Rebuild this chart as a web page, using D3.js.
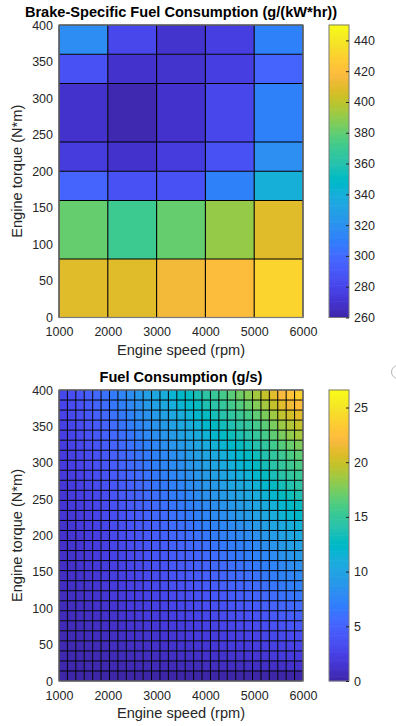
<!DOCTYPE html>
<html><head><meta charset="utf-8">
<script src="https://cdn.jsdelivr.net/npm/d3@7"></script>
<style>
body{margin:0;background:#fff;}
svg{display:block;font-family:"Liberation Sans",Arial,Helvetica,sans-serif;}
</style>
</head><body>
<svg id="c" width="396" height="726"></svg>
<script>
// ---------------- DATA ----------------
const speedTicks = [1000, 2000, 3000, 4000, 5000, 6000];
const torqueTicks = [0, 50, 100, 150, 200, 250, 300, 350, 400];

// Brake-specific fuel consumption (pcolor cells, rows bottom -> top)
const bsfcSpeedEdges = [1000, 2000, 3000, 4000, 5000, 6000];
const bsfcTorqueEdges = [0, 80, 160, 200, 240, 320, 360, 400];
const bsfcValues = [
  [409, 409, 415, 419, 431],
  [381, 371, 381, 391, 409],
  [296, 287, 287, 311, 340],
  [275, 269, 275, 287, 319],
  [269, 262, 269, 281, 311],
  [287, 269, 270, 276, 296],
  [318, 281, 270, 276, 311]
];
const bsfcLimits = [260, 450];
const bsfcColorTicks = [260, 280, 300, 320, 340, 360, 380, 400, 420, 440];

// Fuel consumption (g/s), 29 x 29 cells, rows bottom -> top
const fuelSpeedEdges = [1000, 1172.4, 1344.8, 1517.2, 1689.7, 1862.1, 2034.5, 2206.9, 2379.3, 2551.7,
  2724.1, 2896.6, 3069.0, 3241.4, 3413.8, 3586.2, 3758.6, 3931.0, 4103.4, 4275.9, 4448.3, 4620.7,
  4793.1, 4965.5, 5137.9, 5310.3, 5482.8, 5655.2, 5827.6, 6000];
const fuelTorqueEdges = [0, 13.8, 27.6, 41.4, 55.2, 69.0, 82.8, 96.6, 110.3, 124.1, 137.9, 151.7,
  165.5, 179.3, 193.1, 206.9, 220.7, 234.5, 248.3, 262.1, 275.9, 289.7, 303.4, 317.2, 331.0, 344.8,
  358.6, 372.4, 386.2, 400];
const fuelValues = [
  [0,0,0,0,0,0,0,0,0,0,0,0,0,0,0,0,0,0,0,0,0,0,0,0,0,0,0,0,0],
  [0.2,0.2,0.2,0.3,0.3,0.3,0.4,0.4,0.5,0.5,0.5,0.6,0.6,0.6,0.7,0.7,0.7,0.8,0.8,0.9,0.9,0.9,1.0,1.0,1.1,1.1,1.2,1.3,1.3],
  [0.3,0.3,0.4,0.4,0.5,0.5,0.6,0.7,0.7,0.8,0.9,0.9,1.0,1.0,1.1,1.1,1.2,1.3,1.3,1.4,1.5,1.5,1.6,1.7,1.8,1.9,2.0,2.0,2.1],
  [0.4,0.4,0.5,0.6,0.6,0.7,0.8,0.9,1.0,1.1,1.1,1.2,1.3,1.4,1.5,1.5,1.6,1.7,1.8,1.9,2.0,2.0,2.1,2.2,2.4,2.5,2.6,2.7,2.8],
  [0.4,0.5,0.6,0.7,0.8,0.9,1.0,1.1,1.2,1.3,1.4,1.5,1.6,1.7,1.8,1.9,2.0,2.1,2.2,2.3,2.4,2.5,2.6,2.7,2.9,3.0,3.2,3.3,3.4],
  [0.5,0.6,0.7,0.8,1.0,1.1,1.2,1.3,1.5,1.6,1.7,1.8,2.0,2.1,2.2,2.3,2.4,2.6,2.7,2.8,2.9,3.1,3.2,3.3,3.5,3.7,3.9,4.1,4.2],
  [0.6,0.7,0.9,1.0,1.1,1.3,1.4,1.6,1.7,1.9,2.0,2.1,2.3,2.4,2.6,2.7,2.8,3.0,3.1,3.3,3.4,3.6,3.7,3.9,4.1,4.3,4.6,4.7,4.9],
  [0.7,0.8,1.0,1.1,1.3,1.5,1.6,1.8,2.0,2.2,2.3,2.5,2.7,2.8,3.0,3.1,3.3,3.5,3.7,3.8,4.0,4.2,4.3,4.5,4.8,5.1,5.3,5.5,5.7],
  [0.8,1.0,1.1,1.3,1.5,1.7,1.9,2.1,2.3,2.4,2.6,2.8,3.0,3.2,3.4,3.5,3.7,4.0,4.2,4.3,4.5,4.7,4.9,5.2,5.4,5.7,6.1,6.3,6.5],
  [0.9,1.1,1.3,1.4,1.6,1.9,2.1,2.3,2.5,2.7,2.9,3.1,3.4,3.6,3.8,3.9,4.1,4.4,4.6,4.8,5.0,5.2,5.5,5.7,6.0,6.4,6.7,7.0,7.2],
  [1.0,1.2,1.4,1.6,1.8,2.0,2.3,2.5,2.7,2.9,3.2,3.4,3.6,3.9,4.1,4.3,4.5,4.8,5.0,5.2,5.5,5.7,5.9,6.2,6.6,6.9,7.3,7.5,7.8],
  [1.1,1.2,1.5,1.7,1.9,2.2,2.4,2.7,2.9,3.2,3.4,3.7,3.9,4.2,4.4,4.6,4.8,5.1,5.4,5.6,5.9,6.1,6.4,6.7,7.0,7.4,7.8,8.1,8.4],
  [1.2,1.4,1.6,1.8,2.1,2.4,2.6,2.9,3.2,3.4,3.7,4.0,4.2,4.5,4.7,5.0,5.2,5.6,5.8,6.1,6.4,6.6,6.9,7.3,7.6,8.1,8.5,8.8,9.1],
  [1.2,1.5,1.7,2.0,2.2,2.5,2.8,3.1,3.4,3.7,4.0,4.3,4.6,4.9,5.1,5.4,5.6,6.0,6.3,6.6,6.8,7.1,7.4,7.8,8.2,8.7,9.1,9.5,9.8],
  [1.3,1.6,1.8,2.1,2.4,2.7,3.1,3.4,3.7,4.0,4.3,4.6,4.9,5.3,5.5,5.8,6.1,6.5,6.8,7.1,7.4,7.7,8.0,8.4,8.9,9.4,9.9,10.2,10.6],
  [1.4,1.7,2.0,2.3,2.6,2.9,3.3,3.6,4.0,4.3,4.6,5.0,5.3,5.7,5.9,6.2,6.6,7.0,7.3,7.6,8.0,8.3,8.6,9.1,9.6,10.1,10.6,11.0,11.4],
  [1.6,1.8,2.1,2.4,2.8,3.2,3.5,3.9,4.3,4.6,5.0,5.4,5.7,6.1,6.4,6.7,7.1,7.5,7.9,8.2,8.6,9.0,9.3,9.8,10.3,10.9,11.5,11.9,12.3],
  [1.6,1.9,2.2,2.5,2.9,3.3,3.7,4.1,4.4,4.8,5.2,5.6,6.0,6.3,6.7,7.0,7.4,7.8,8.2,8.6,8.9,9.3,9.7,10.2,10.7,11.3,11.9,12.4,12.8],
  [1.7,2.0,2.4,2.7,3.1,3.5,4.0,4.4,4.8,5.2,5.6,6.0,6.4,6.8,7.1,7.5,7.9,8.4,8.8,9.2,9.6,10.0,10.4,10.9,11.5,12.1,12.8,13.2,13.7],
  [1.8,2.1,2.5,2.9,3.3,3.7,4.1,4.6,5.0,5.4,5.9,6.3,6.7,7.1,7.5,7.9,8.3,8.8,9.2,9.6,10.1,10.5,10.9,11.5,12.1,12.7,13.4,13.9,14.4],
  [1.9,2.3,2.6,3.0,3.5,3.9,4.4,4.8,5.3,5.7,6.2,6.6,7.1,7.5,7.9,8.3,8.8,9.3,9.7,10.2,10.6,11.1,11.5,12.1,12.8,13.5,14.2,14.7,15.2],
  [2.0,2.4,2.8,3.2,3.7,4.1,4.6,5.1,5.6,6.0,6.5,7.0,7.5,7.9,8.3,8.7,9.2,9.8,10.2,10.7,11.2,11.7,12.1,12.7,13.4,14.2,14.9,15.5,16.0],
  [2.1,2.5,2.9,3.3,3.8,4.3,4.8,5.3,5.8,6.3,6.7,7.2,7.7,8.2,8.6,9.1,9.6,10.1,10.6,11.1,11.6,12.1,12.6,13.2,13.9,14.7,15.5,16.0,16.6],
  [2.2,2.6,3.1,3.5,4.0,4.6,5.1,5.6,6.1,6.6,7.2,7.7,8.2,8.7,9.2,9.6,10.1,10.7,11.3,11.8,12.3,12.8,13.4,14.0,14.8,15.6,16.4,17.0,17.6],
  [2.4,2.8,3.3,3.7,4.3,4.9,5.4,6.0,6.5,7.1,7.7,8.2,8.8,9.3,9.8,10.3,10.8,11.5,12.0,12.6,13.2,13.7,14.3,15.0,15.8,16.7,17.5,18.2,18.8],
  [2.5,2.9,3.4,3.9,4.5,5.1,5.7,6.3,6.9,7.5,8.1,8.6,9.2,9.8,10.3,10.8,11.4,12.1,12.7,13.3,13.8,14.4,15.0,15.8,16.6,17.5,18.5,19.1,19.8],
  [2.7,3.1,3.6,4.2,4.8,5.4,6.1,6.7,7.3,7.9,8.5,9.2,9.8,10.4,10.9,11.5,12.1,12.8,13.4,14.1,14.7,15.3,15.9,16.7,17.6,18.6,19.6,20.3,21.0],
  [2.8,3.3,3.9,4.5,5.1,5.8,6.5,7.1,7.8,8.4,9.1,9.8,10.4,11.1,11.7,12.2,12.9,13.7,14.3,15.0,15.7,16.3,17.0,17.8,18.8,19.8,20.9,21.6,22.4],
  [3.0,3.5,4.1,4.7,5.4,6.1,6.8,7.5,8.2,8.9,9.6,10.3,11.0,11.7,12.3,12.9,13.6,14.4,15.1,15.8,16.5,17.2,17.9,18.8,19.8,20.9,22.0,22.8,23.6]
];
const fuelLimits = [0, 26.6];
const fuelColorTicks = [0, 5, 10, 15, 20, 25];

// ---------------- STYLE ----------------
const parula = [
[0.2422,0.1504,0.6603],[0.2504,0.1650,0.7076],[0.2578,0.1818,0.7511],[0.2647,0.1978,0.7952],
[0.2706,0.2147,0.8364],[0.2751,0.2342,0.8710],[0.2783,0.2559,0.8991],[0.2803,0.2782,0.9221],
[0.2813,0.3006,0.9414],[0.2810,0.3228,0.9579],[0.2795,0.3447,0.9717],[0.2760,0.3667,0.9829],
[0.2699,0.3892,0.9906],[0.2602,0.4123,0.9952],[0.2440,0.4358,0.9988],[0.2206,0.4603,0.9973],
[0.1963,0.4847,0.9892],[0.1834,0.5074,0.9798],[0.1786,0.5289,0.9682],[0.1764,0.5499,0.9520],
[0.1687,0.5703,0.9359],[0.1540,0.5902,0.9218],[0.1460,0.6091,0.9079],[0.1380,0.6276,0.8973],
[0.1248,0.6459,0.8883],[0.1113,0.6635,0.8763],[0.0952,0.6798,0.8598],[0.0689,0.6948,0.8394],
[0.0297,0.7082,0.8163],[0.0036,0.7203,0.7917],[0.0067,0.7312,0.7660],[0.0433,0.7411,0.7394],
[0.0964,0.7500,0.7120],[0.1408,0.7584,0.6842],[0.1717,0.7670,0.6554],[0.1938,0.7758,0.6251],
[0.2161,0.7843,0.5923],[0.2470,0.7918,0.5567],[0.2906,0.7973,0.5188],[0.3406,0.8008,0.4789],
[0.3909,0.8029,0.4354],[0.4456,0.8024,0.3909],[0.5044,0.7993,0.3480],[0.5616,0.7942,0.3045],
[0.6174,0.7876,0.2612],[0.6720,0.7793,0.2227],[0.7242,0.7698,0.1910],[0.7738,0.7598,0.1646],
[0.8203,0.7498,0.1535],[0.8634,0.7406,0.1596],[0.9035,0.7330,0.1774],[0.9393,0.7288,0.2100],
[0.9728,0.7298,0.2394],[0.9956,0.7434,0.2371],[0.9970,0.7659,0.2199],[0.9952,0.7893,0.2028],
[0.9892,0.8136,0.1885],[0.9786,0.8386,0.1766],[0.9676,0.8639,0.1643],[0.9610,0.8890,0.1537],
[0.9597,0.9135,0.1423],[0.9628,0.9373,0.1265],[0.9691,0.9606,0.1064],[0.9769,0.9839,0.0805]
].map(c => d3.rgb(c[0]*255, c[1]*255, c[2]*255).toString());

const TICK_FS = 12.5, LABEL_FS = 14.6, TITLE_FS = 14.6;
const TXT = "#262626";
const svg = d3.select("#c");

function panel(cfg) {
  const left = 59, right = 303, cbL = 329, cbR = 349;
  const x = d3.scaleLinear().domain([1000, 6000]).range([left, right]);
  const y = d3.scaleLinear().domain([0, 400]).range([cfg.bottom, cfg.top]);
  const [c0, c1] = cfg.limits;
  const color = d3.scaleLinear()
    .domain(parula.map((_, i) => c0 + (c1 - c0) * i / (parula.length - 1)))
    .range(parula).clamp(true);

  const g = svg.append("g");
  const cells = cfg.values.flatMap((row, i) => row.map((v, j) => ({i, j, v})));
  g.append("g").selectAll("rect").data(cells).join("rect")
    .attr("x", d => x(cfg.se[d.j]))
    .attr("y", d => y(cfg.te[d.i + 1]))
    .attr("width", d => x(cfg.se[d.j + 1]) - x(cfg.se[d.j]))
    .attr("height", d => y(cfg.te[d.i]) - y(cfg.te[d.i + 1]))
    .attr("fill", d => color(d.v));

  const grid = g.append("g").attr("stroke", "#000").attr("stroke-width", cfg.lw);
  grid.selectAll("line.v").data(cfg.se).join("line").attr("class", "v")
    .attr("x1", d => x(d)).attr("x2", d => x(d))
    .attr("y1", y(0)).attr("y2", y(400));
  grid.selectAll("line.h").data(cfg.te).join("line").attr("class", "h")
    .attr("y1", d => y(d)).attr("y2", d => y(d))
    .attr("x1", x(1000)).attr("x2", x(6000));

  // axes box
  g.append("rect").attr("x", left).attr("y", cfg.top)
    .attr("width", right - left).attr("height", cfg.bottom - cfg.top)
    .attr("fill", "none").attr("stroke", "#7a7a7a").attr("stroke-width", 1.2);

  // y axis
  const ya = g.append("g").attr("transform", `translate(${left},0)`)
    .call(d3.axisLeft(y).tickValues(torqueTicks).tickFormat(d3.format("d")).tickSize(0).tickPadding(6));
  ya.select(".domain").remove();
  ya.selectAll("text").attr("font-size", TICK_FS).attr("fill", TXT)
    .attr("font-family", "Liberation Sans, Arial, sans-serif");

  // x axis
  const xa = g.append("g").attr("transform", `translate(0,${cfg.bottom})`)
    .call(d3.axisBottom(x).tickValues(speedTicks).tickFormat(d3.format("d")).tickSize(0).tickPadding(0));
  xa.select(".domain").remove();
  xa.selectAll("text").attr("font-size", TICK_FS).attr("fill", TXT)
    .attr("dy", null).attr("y", 18.6)
    .attr("font-family", "Liberation Sans, Arial, sans-serif");

  // labels
  g.append("text").attr("x", (left + right) / 2).attr("y", cfg.bottom + 37)
    .attr("text-anchor", "middle").attr("font-size", LABEL_FS).attr("fill", TXT)
    .text("Engine speed (rpm)");
  g.append("text")
    .attr("transform", `translate(21.5,${(cfg.top + cfg.bottom) / 2}) rotate(-90)`)
    .attr("text-anchor", "middle").attr("font-size", LABEL_FS).attr("fill", TXT)
    .text("Engine torque (N*m)");
  g.append("text").attr("x", (left + right) / 2).attr("y", cfg.top - 8.5)
    .attr("text-anchor", "middle").attr("font-size", TITLE_FS).attr("font-weight", "bold")
    .attr("fill", "#000").text(cfg.title);

  // colorbar
  const cy = d3.scaleLinear().domain(cfg.limits).range([cfg.bottom, cfg.top]);
  const nBands = 128;
  const bands = d3.range(nBands).map(k => c0 + (c1 - c0) * k / nBands);
  const step = (c1 - c0) / nBands;
  g.append("g").selectAll("rect").data(bands).join("rect")
    .attr("x", cbL).attr("width", cbR - cbL)
    .attr("y", d => cy(d + step) - 0.3)
    .attr("height", d => cy(d) - cy(d + step) + 0.6)
    .attr("fill", d => color(d + step / 2));
  g.append("rect").attr("x", cbL).attr("y", cfg.top).attr("width", cbR - cbL)
    .attr("height", cfg.bottom - cfg.top).attr("fill", "none")
    .attr("stroke", "#7a7a7a").attr("stroke-width", 1);
  const ca = g.append("g").attr("transform", `translate(${cbR},0)`)
    .call(d3.axisRight(cy).tickValues(cfg.cticks).tickFormat(d3.format("d")).tickSize(-3).tickPadding(5));
  ca.select(".domain").remove();
  ca.selectAll("line").attr("stroke", TXT);
  ca.selectAll("text").attr("font-size", TICK_FS).attr("fill", TXT)
    .attr("font-family", "Liberation Sans, Arial, sans-serif");
}

panel({top: 25, bottom: 317.5, se: bsfcSpeedEdges, te: bsfcTorqueEdges, values: bsfcValues,
  limits: bsfcLimits, cticks: bsfcColorTicks, lw: 1.1,
  title: "Brake-Specific Fuel Consumption (g/(kW*hr))"});
panel({top: 390, bottom: 681, se: fuelSpeedEdges, te: fuelTorqueEdges, values: fuelValues,
  limits: fuelLimits, cticks: fuelColorTicks, lw: 1,
  title: "Fuel Consumption (g/s)"});

// partially visible toolbar info icon
svg.append("circle").attr("cx", 398).attr("cy", 372).attr("r", 6.5)
  .attr("fill", "none").attr("stroke", "#b5b5b5").attr("stroke-width", 1);
</script>
</body></html>
